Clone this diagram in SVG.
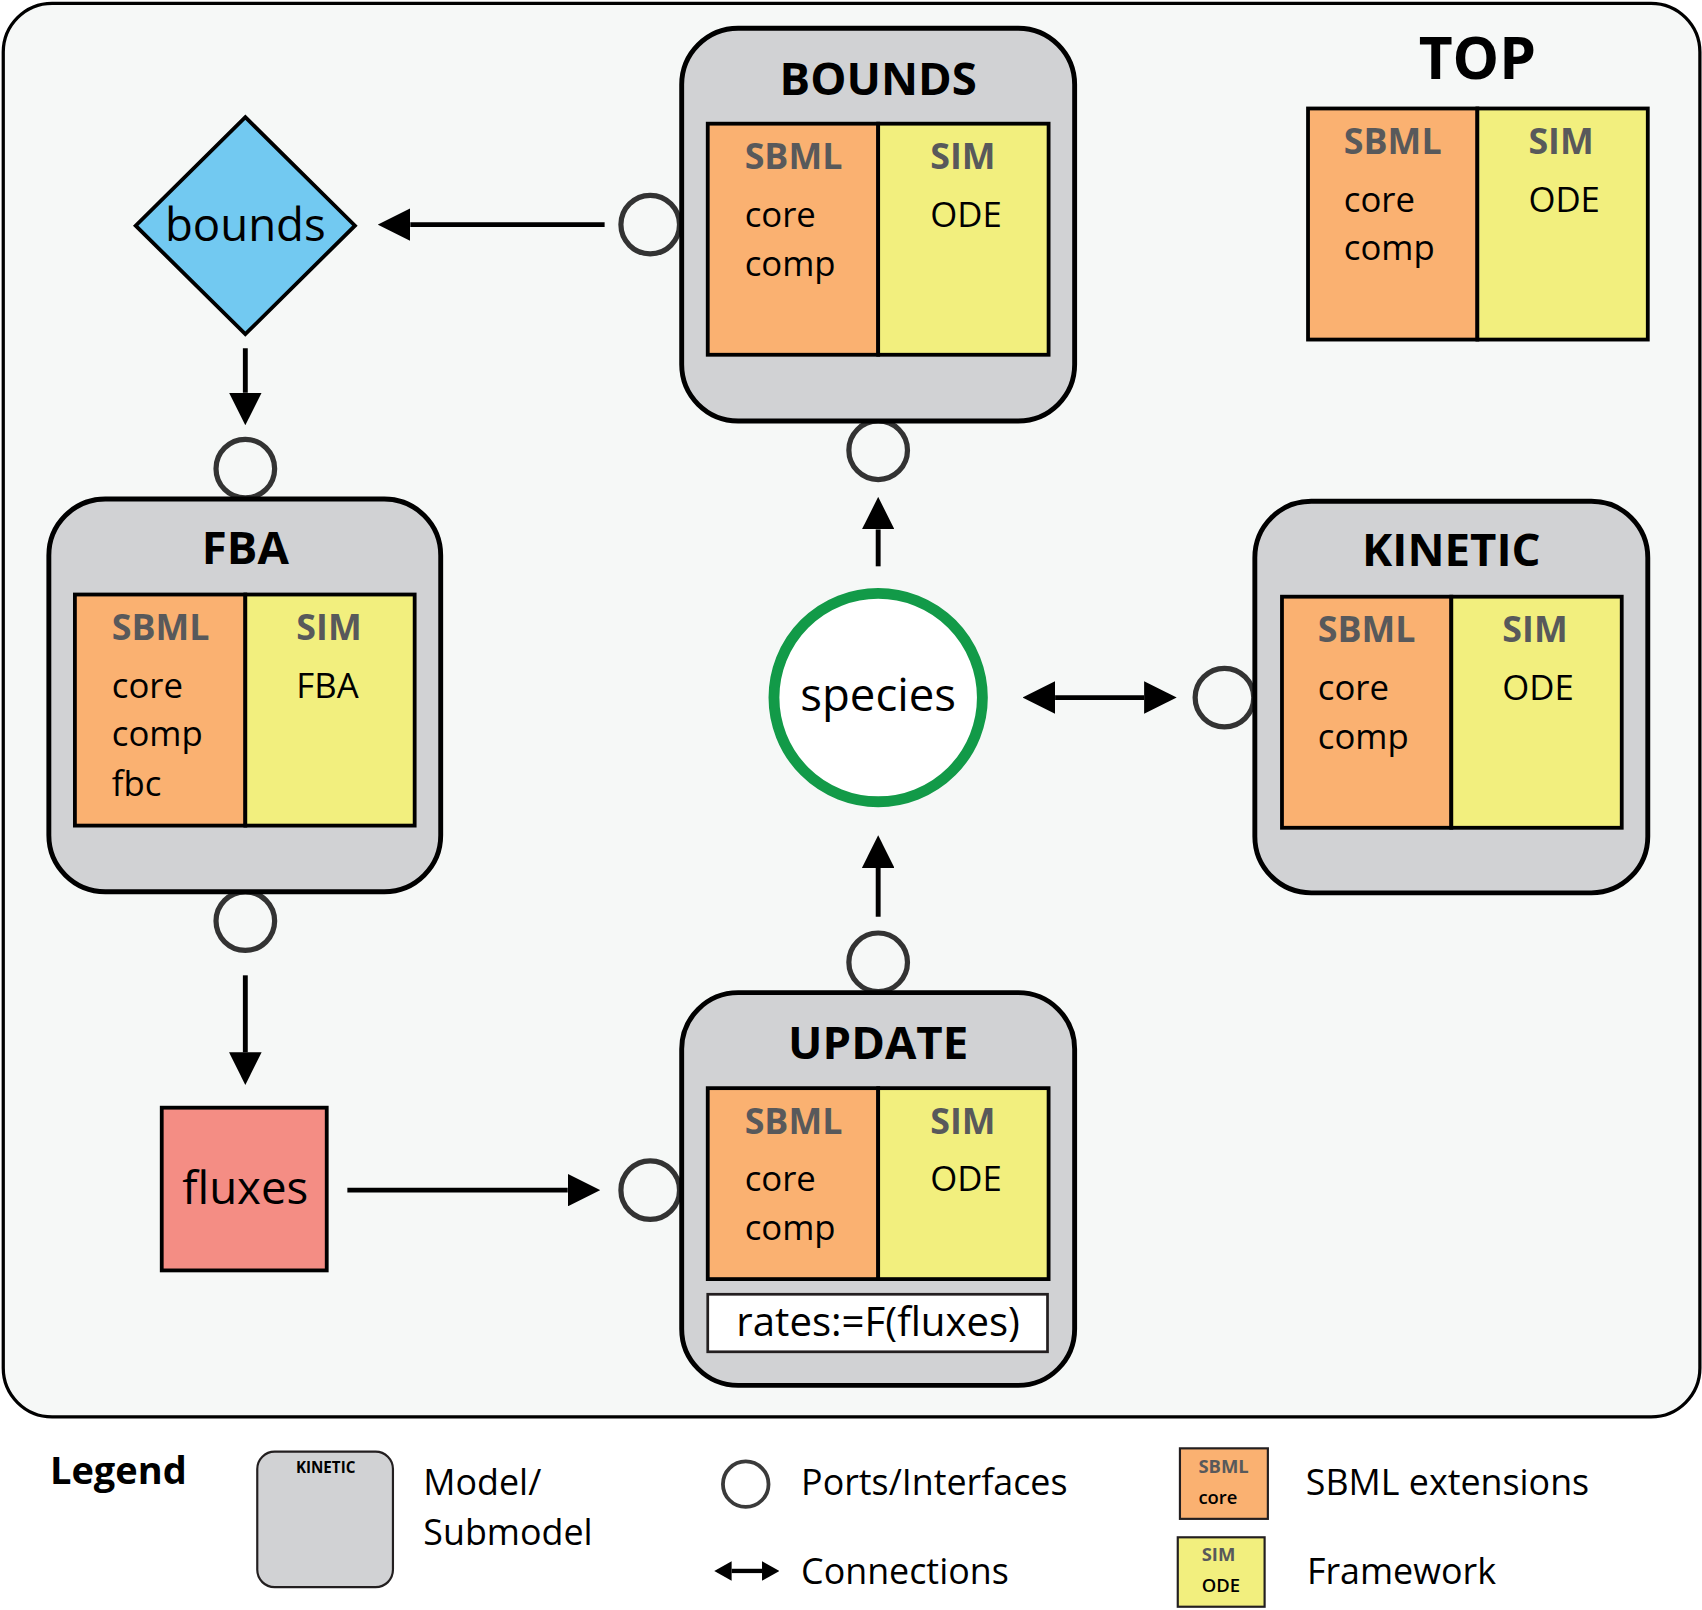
<svg xmlns="http://www.w3.org/2000/svg" width="1702" height="1610" viewBox="0 0 1702 1610">
<style>
text{font-family:"Open Sans","Noto Sans","DejaVu Sans",sans-serif;fill:#000}
.frame{fill:#f6f8f7;stroke:#000;stroke-width:3}
.model{fill:#d1d2d4;stroke:#000;stroke-width:4.5}
.sbml{fill:#fab171;stroke:#000;stroke-width:3.5}
.sim{fill:#f2ef7e;stroke:#000;stroke-width:3.5}
.port{fill:#f6f8f7;stroke:#333;stroke-width:4.8}
.title{font-weight:bold;font-size:42px;text-anchor:middle}
.hdr{font-weight:bold;font-size:33px;fill:#58595b}
.item{font-size:32px}
.conn{stroke:#000;stroke-width:4.5;fill:none}
.lbl{font-size:33px}
</style>
<defs>
<marker id="ah" markerUnits="userSpaceOnUse" viewBox="0 0 30 30" refX="0" refY="15" markerWidth="30" markerHeight="30" orient="auto-start-reverse">
<path d="M0,0 L30,15 L0,30 z" fill="#000"/>
</marker>
<marker id="ahs" markerUnits="userSpaceOnUse" viewBox="0 0 16 18" refX="0" refY="9" markerWidth="16" markerHeight="18" orient="auto-start-reverse">
<path d="M0,0 L16,9 L0,18 z" fill="#000"/>
</marker>
</defs>
<g transform="scale(1.0855,1.0849)">
<rect class="frame" x="3" y="3" width="1563" height="1303" rx="45"/>

<g id="connectors">
<line class="conn" x1="557" y1="207" x2="378" y2="207" marker-end="url(#ah)"/>
<line class="conn" x1="226" y1="321" x2="226" y2="362" marker-end="url(#ah)"/>
<line class="conn" x1="226" y1="899" x2="226" y2="970" marker-end="url(#ah)"/>
<line class="conn" x1="320" y1="1097" x2="523" y2="1097" marker-end="url(#ah)"/>
<line class="conn" x1="809" y1="845" x2="809" y2="800" marker-end="url(#ah)"/>
<line class="conn" x1="809" y1="522" x2="809" y2="488" marker-end="url(#ah)"/>
<line class="conn" x1="972" y1="643" x2="1054" y2="643" marker-start="url(#ah)" marker-end="url(#ah)"/>
</g>

<g id="top">
<text class="title" x="1361" y="73" style="font-size:54px">TOP</text>
<rect class="sbml" x="1205" y="100" width="156" height="213"/>
<rect class="sim" x="1361" y="100" width="157" height="213"/>
<text class="hdr" x="1238" y="142">SBML</text>
<text class="item" x="1238" y="195">core</text>
<text class="item" x="1238" y="240">comp</text>
<text class="hdr" x="1408" y="142">SIM</text>
<text class="item" x="1408" y="195">ODE</text>
</g>

<g id="bounds-param">
<polygon points="226,108 327,208 226,308 125,208" fill="#72c9f1" stroke="#000" stroke-width="3.5"/>
<text x="226" y="222" text-anchor="middle" style="font-size:42px">bounds</text>
</g>

<g id="BOUNDS">
<circle class="port" cx="599" cy="207" r="27"/>
<circle class="port" cx="809" cy="415" r="27"/>
<rect class="model" x="628" y="26" width="362" height="362" rx="52"/>
<text class="title" x="809" y="88">BOUNDS</text>
<rect class="sbml" x="652" y="114" width="157" height="213"/>
<rect class="sim" x="809" y="114" width="157" height="213"/>
<text class="hdr" x="686" y="156">SBML</text>
<text class="item" x="686" y="209">core</text>
<text class="item" x="686" y="254">comp</text>
<text class="hdr" x="857" y="156">SIM</text>
<text class="item" x="857" y="209">ODE</text>
</g>

<g id="FBA">
<circle class="port" cx="226" cy="432" r="27"/>
<circle class="port" cx="226" cy="849" r="27"/>
<rect class="model" x="45" y="460" width="361" height="362" rx="52"/>
<text class="title" x="226" y="520">FBA</text>
<rect class="sbml" x="69" y="548" width="157" height="213"/>
<rect class="sim" x="226" y="548" width="156" height="213"/>
<text class="hdr" x="103" y="590">SBML</text>
<text class="item" x="103" y="643">core</text>
<text class="item" x="103" y="688">comp</text>
<text class="item" x="103" y="734">fbc</text>
<text class="hdr" x="273" y="590">SIM</text>
<text class="item" x="273" y="643">FBA</text>
</g>

<g id="species">
<circle cx="809" cy="643" r="96" fill="#fff" stroke="#129a48" stroke-width="10"/>
<text x="809" y="655" text-anchor="middle" style="font-size:42px">species</text>
</g>

<g id="KINETIC">
<circle class="port" cx="1128" cy="643" r="27"/>
<rect class="model" x="1156" y="462" width="362" height="361" rx="52"/>
<text class="title" x="1337" y="522">KINETIC</text>
<rect class="sbml" x="1181" y="550" width="156" height="213"/>
<rect class="sim" x="1337" y="550" width="157" height="213"/>
<text class="hdr" x="1214" y="592">SBML</text>
<text class="item" x="1214" y="645">core</text>
<text class="item" x="1214" y="690">comp</text>
<text class="hdr" x="1384" y="592">SIM</text>
<text class="item" x="1384" y="645">ODE</text>
</g>

<g id="fluxes">
<rect x="149" y="1021" width="152" height="150" fill="#f48d84" stroke="#000" stroke-width="3.5"/>
<text x="226" y="1110" text-anchor="middle" style="font-size:42px">fluxes</text>
</g>

<g id="UPDATE">
<circle class="port" cx="809" cy="887" r="27"/>
<circle class="port" cx="599" cy="1097" r="27"/>
<rect class="model" x="628" y="915" width="362" height="362" rx="52"/>
<text class="title" x="809" y="976">UPDATE</text>
<rect class="sbml" x="652" y="1003" width="157" height="176"/>
<rect class="sim" x="809" y="1003" width="157" height="176"/>
<text class="hdr" x="686" y="1045">SBML</text>
<text class="item" x="686" y="1098">core</text>
<text class="item" x="686" y="1143">comp</text>
<text class="hdr" x="857" y="1045">SIM</text>
<text class="item" x="857" y="1098">ODE</text>
<rect x="652" y="1193" width="313" height="53" fill="#fff" stroke="#231f20" stroke-width="2.5"/>
<text x="809" y="1231" text-anchor="middle" style="font-size:37px">rates:=F(fluxes)</text>
</g>

<g id="legend">
<text x="46" y="1368" style="font-weight:bold;font-size:35px">Legend</text>
<rect x="237" y="1338" width="125" height="125" rx="16" fill="#d1d2d4" stroke="#231f20" stroke-width="2"/>
<text x="300" y="1358" text-anchor="middle" style="font-weight:bold;font-size:14px">KINETIC</text>
<text class="lbl" x="390" y="1378">Model/</text>
<text class="lbl" x="390" y="1424">Submodel</text>
<circle cx="687" cy="1368" r="21" fill="none" stroke="#3a3a3a" stroke-width="3.5"/>
<text class="lbl" x="738" y="1378">Ports/Interfaces</text>
<line x1="674" y1="1448" x2="702" y2="1448" stroke="#000" stroke-width="4" marker-start="url(#ahs)" marker-end="url(#ahs)"/>
<text class="lbl" x="738" y="1460">Connections</text>
<rect x="1087" y="1335" width="81" height="65" fill="#fab171" stroke="#231f20" stroke-width="2"/>
<text x="1104" y="1358" style="font-weight:bold;font-size:17px;fill:#58595b">SBML</text>
<text x="1104" y="1386" style="font-weight:600;font-size:17px">core</text>
<text class="lbl" x="1203" y="1378">SBML extensions</text>
<rect x="1085" y="1417" width="80" height="64" fill="#f2ef7e" stroke="#231f20" stroke-width="2"/>
<text x="1107" y="1439" style="font-weight:bold;font-size:17px;fill:#58595b">SIM</text>
<text x="1107" y="1467" style="font-weight:600;font-size:17px">ODE</text>
<text class="lbl" x="1204" y="1460">Framework</text>
</g>
</g>
</svg>
